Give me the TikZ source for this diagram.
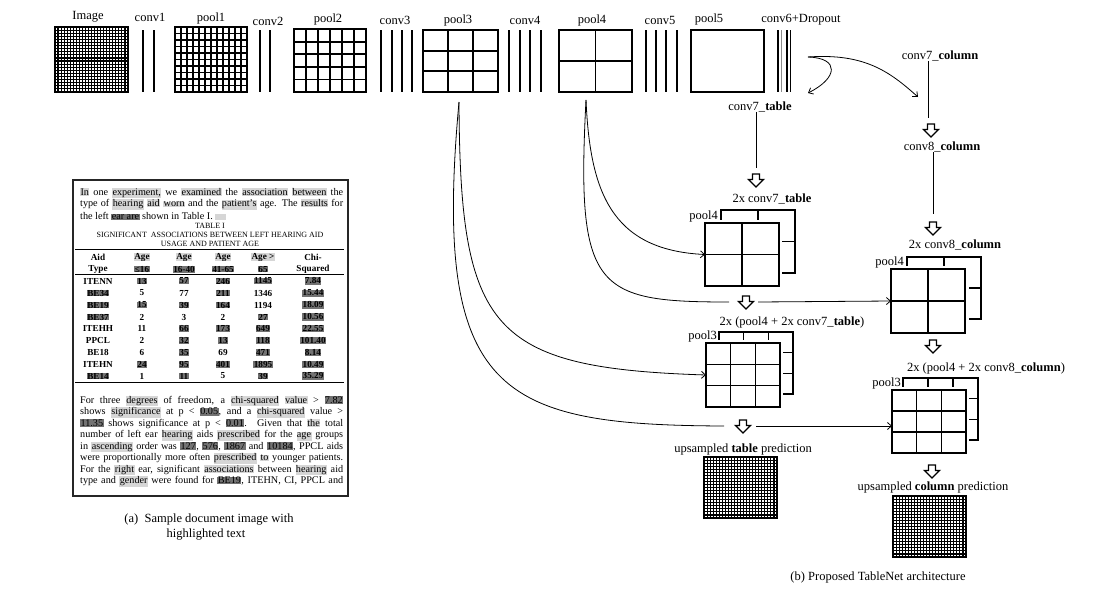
\documentclass[tikz,border=0pt]{standalone}
\usepackage{fontspec}
\setmainfont{Liberation Serif}
\usetikzlibrary{calc,arrows.meta}
\newcommand\hlL[1]{{\setlength\fboxsep{0.4pt}\colorbox{black!16}{#1}}}
\newcommand\hlD[1]{{\setlength\fboxsep{0.4pt}\colorbox{black!55}{#1}}}
\newcommand\mkgrid[8]{%
  \node[draw, line width=#8, minimum width=#4pt, minimum height=#5pt, inner sep=0pt, outer sep=0pt, anchor=north west] (#1) at (#2,#3) {};
  \ifnum#6>1
    \pgfmathtruncatemacro\mgN{#6-1}%
    \foreach \i in {1,...,\mgN}{\draw[line width=#8] ($(#1.north west)!\i/#6!(#1.north east)$) -- ($(#1.south west)!\i/#6!(#1.south east)$);}%
  \fi
  \ifnum#7>1
    \pgfmathtruncatemacro\mgM{#7-1}%
    \foreach \j in {1,...,\mgM}{\draw[line width=#8] ($(#1.north west)!\j/#7!(#1.south west)$) -- ($(#1.north east)!\j/#7!(#1.south east)$);}%
  \fi
}
\newcommand\harrow[3]{%
  \coordinate (#1) at (#2,#3);
  \draw[line width=1.3pt, line join=miter, fill=white] ($(#1)+(-3.5,0)$) -- ++(7,0) -- ++(0,5.5) -- ++(4,0) -- ++(-7.5,7.5) -- ++(-7.5,-7.5) -- ++(4,0) -- cycle;
}
\newcommand\convl[2][black]{\draw[line width=1.4pt, draw=#1] (#2,30) -- (#2,92);}
\newcommand\trow[7]{%
  \node[tb] (ra#1) at (98,#1) {#2};
  \node[tb] (rb#1) at (142,#1) {#3};
  \node[tb] (rc#1) at (184,#1) {#4};
  \node[tb] (rd#1) at (223,#1) {#5};
  \node[tb] (re#1) at (263,#1) {#6};
  \node[tb] (rf#1) at (313,#1) {#7};
}
\begin{document}
\begin{tikzpicture}[x=1pt,y=-1pt,
  lbl/.style={inner sep=0pt, font=\fontsize{12.5}{14}\selectfont},
  tb/.style={inner sep=0pt, font=\bfseries\fontsize{9.2}{10}\selectfont},
  doc/.style={inner sep=0pt, anchor=west, font=\fontsize{10.2}{11}\selectfont},
  conn/.style={line width=0.8pt, -{Straight Barb[length=4pt,width=7pt]}},
  plain/.style={line width=0.8pt}]
\fill[white] (0,0) rectangle (1097,597);
\useasboundingbox (0,0) rectangle (1097,597);

% ---------------- top row ----------------
\mkgrid{img}{55}{27}{73}{65}{24}{21}{1.1pt}
\convl{143}\convl{154}
\mkgrid{pool1}{175}{27}{72}{65}{12}{10}{1.5pt}
\convl{260}\convl{270}
\mkgrid{pool2}{294}{29}{72}{63}{6}{5}{1.8pt}
\convl{381}\convl{392}\convl{402}\convl{412}
\mkgrid{pool3}{423}{30}{75}{62}{3}{3}{1.8pt}
\convl{509}\convl{520}\convl{530}\convl{541}
\mkgrid{pool4}{559}{30}{73}{62}{2}{2}{1.8pt}
\convl{646}\convl{656}\convl{666}\convl{677}
\mkgrid{pool5}{691}{30}{73}{62}{1}{1}{1.8pt}
\convl{778}\convl[black!45]{781.5}\convl{787}\convl{790.5}

\node[lbl] (limg) at (88,17) {Image};
\node[lbl] (lc1) at (150,17) {conv1};
\node[lbl] (lp1) at (211,18) {pool1};
\node[lbl] (lc2) at (268,21) {conv2};
\node[lbl] (lp2) at (328,19) {pool2};
\node[lbl] (lc3) at (395,20) {conv3};
\node[lbl] (lp3) at (458,20) {pool3};
\node[lbl] (lc4) at (525,20) {conv4};
\node[lbl] (lp4) at (592,20) {pool4};
\node[lbl] (lc5) at (660,20) {conv5};
\node[lbl] (lp5) at (709,19) {pool5};
\node[lbl] (lc6) at (801,20) {conv6+Dropout};

% ---------------- table branch ----------------
\node[lbl] (c7t) at (760,107) {conv7\_\textbf{table}};
\harrow{ha1}{756}{174}
\draw[plain] (c7t.south -| ha1) -- ($(ha1)+(0,-6)$);
\node[lbl] (l2c7t) at (772,199) {2x conv7\_\textbf{table}};
\mkgrid{t4b}{721}{210}{74}{63}{2}{2}{1.6pt}
\fill[white] (702,220) rectangle (782,289);
\mkgrid{t4}{705}{223}{74}{63}{2}{2}{1.6pt}
\node[lbl, anchor=east] (lt4) at (718,216) {pool4};
\harrow{ha2}{746}{296}
\node[lbl] (lt3top) at (792,322) {2x (pool4 + 2x conv7\_\textbf{table})};
\mkgrid{t3b}{719}{332}{74}{62}{3}{3}{1.6pt}
\fill[white] (703,340) rectangle (783,410);
\mkgrid{t3}{706}{343}{74}{64}{3}{3}{1.6pt}
\node[lbl, anchor=east] (lt3) at (717,336) {pool3};
\harrow{ha3}{743}{420}
\node[lbl] (lupt) at (743,449) {upsampled \textbf{table} prediction};
\mkgrid{upt}{704}{457}{73}{61}{24}{20}{1.1pt}

% ---------------- column branch ----------------
\node[lbl] (c7c) at (940,56) {conv7\_\textbf{column}};
\harrow{hb1}{931}{124}
\draw[line width=0.7pt, double, double distance=2pt] (c7c.south -| 929.5,0) -- ($(hb1)+(-1.5,-6)$);
\node[lbl] (c8c) at (942,147) {conv8\_\textbf{column}};
\harrow{hb2}{933}{222}
\draw[plain] (c8c.south -| hb2) -- ($(hb2)+(0,-8)$);
\node[lbl] (l2c8c) at (955,245) {2x conv8\_\textbf{column}};
\mkgrid{c4b}{907}{257}{74}{62}{2}{2}{1.6pt}
\fill[white] (888,266) rectangle (969,336);
\mkgrid{c4}{891}{269}{74}{64}{2}{2}{1.6pt}
\node[lbl, anchor=east] (lc4b) at (904,262) {pool4};
\harrow{hb3}{933}{340}
\node[lbl] (lc3top) at (986,368) {2x (pool4 + 2x conv8\_\textbf{column})};
\mkgrid{c3b}{903}{378}{75}{62}{3}{3}{1.6pt}
\fill[white] (889,387) rectangle (969,456);
\mkgrid{c3}{892}{390}{74}{63}{3}{3}{1.6pt}
\node[lbl, anchor=east] (lc3b) at (901,383) {pool3};
\harrow{hb4}{932}{465}
\node[lbl] (lupc) at (933,487) {upsampled \textbf{column} prediction};
\mkgrid{upc}{893}{496}{73}{61}{24}{20}{1.1pt}

% ---------------- connectors ----------------
\coordinate (c6o) at (808,57);
\coordinate (c7tin) at (808,93);
\coordinate (c7cin) at (918,97);
\draw[conn] (c6o) .. controls (840,58) and (838,78) .. (c7tin);
\draw[conn] (c6o) .. controls (865,53) and (890,72) .. (c7cin);
\coordinate (p3s) at (459,102);
\coordinate (p4s) at (586,100);
\coordinate (g2l) at (729,302);
\coordinate (g2r) at (758,302);
\coordinate (g3l) at (724,426);
\coordinate (g3r) at (756,426);
\draw[conn] (p4s) .. controls (590,190) and (610,250) .. (t4.west);
\draw[plain] (p4s) .. controls (576,290) and (595,302) .. (g2l);
\draw[conn] (g2r) -- (c4.west);
\draw[conn] (p3s) .. controls (460,330) and (490,368) .. (t3.west);
\draw[plain] (p3s) .. controls (432,395) and (500,425) .. (g3l);
\draw[conn] (g3r) -- (c3.west |- g3r);

% ---------------- document image ----------------
\node[draw=black!85, line width=1.8pt, minimum width=275pt, minimum height=316pt, inner sep=0pt, anchor=north west] (doc) at (72,179) {};
\node[doc] (d1) at (80,193) {\makebox[263pt][s]{\hlL{In} one \hlL{experiment,} we \hlL{examined} the \hlL{association} \hlL{between} the}};
\node[doc] (d2) at (80,204.5) {\makebox[263pt][s]{type of \hlL{hearing} \hlL{aid} \hlL{worn} and the \hlL{patient’s} age. The \hlL{results} for}};
\node[doc] (d3) at (80,216) {the left \hlD{ear are} shown in Table I.\,\hlL{\phantom{xx}}};
\node[inner sep=0pt, font=\fontsize{8}{9}\selectfont] (dt1) at (210,225.5) {TABLE I};
\node[inner sep=0pt, font=\fontsize{8}{9}\selectfont] (dt2) at (210,235) {SIGNIFICANT\ \ ASSOCIATIONS BETWEEN LEFT HEARING AID};
\node[inner sep=0pt, font=\fontsize{8}{9}\selectfont] (dt3) at (210,244) {USAGE AND PATIENT AGE};
\coordinate (r1l) at (75,249.5); \coordinate (r1r) at (344,249.5);
\coordinate (r2l) at (75,274.5); \coordinate (r2r) at (344,274.5);
\coordinate (r3l) at (75,382.5); \coordinate (r3r) at (344,382.5);
\draw[line width=1pt] (r1l) -- (r1r);
\draw[line width=0.8pt] (r2l) -- (r2r);
\draw[line width=1pt] (r3l) -- (r3r);
\trow{257}{Aid}{\hlL{Age}}{\hlL{Age}}{\hlL{Age}}{\hlL{Age >}}{Chi-}
\trow{269}{Type}{\hlD{≤16}}{\hlD{16-40}}{\hlD{41-65}}{\hlD{65}}{Squared}
\trow{281}{ITENN}{\hlD{13}}{\hlD{57}}{\hlD{246}}{\hlD{1145}}{\hlD{7.84}}
\trow{293}{\hlD{BE34}}{5}{77}{\hlD{211}}{1346}{\hlD{15.44}}
\trow{305}{\hlD{BE19}}{\hlD{15}}{\hlD{39}}{\hlD{164}}{1194}{\hlD{18.09}}
\trow{317}{\hlD{BE37}}{2}{3}{2}{\hlD{27}}{\hlD{10.56}}
\trow{328.5}{ITEHH}{11}{\hlD{66}}{\hlD{173}}{\hlD{649}}{\hlD{22.55}}
\trow{340.5}{PPCL}{2}{\hlD{32}}{\hlD{13}}{\hlD{118}}{\hlD{101.40}}
\trow{352.5}{BE18}{6}{\hlD{35}}{69}{\hlD{471}}{\hlD{8.14}}
\trow{364.5}{ITEHN}{\hlD{24}}{\hlD{95}}{\hlD{401}}{\hlD{1895}}{\hlD{10.49}}
\trow{376}{\hlD{BE14}}{1}{\hlD{11}}{5}{\hlD{39}}{\hlD{35.29}}
\node[doc] (e1) at (80,401) {\makebox[263pt][s]{For three \hlL{degrees} of freedom, a \hlL{chi-squared} \hlL{value} > \hlD{7.82}}};
\node[doc] (e2) at (80,412.5) {\makebox[263pt][s]{shows \hlL{significance} at p < \hlD{0.05}, and a \hlL{chi-squared} value >}};
\node[doc] (e3) at (80,424) {\makebox[263pt][s]{\hlD{11.35} shows significance at p < \hlD{0.01}. Given that \hlL{the} total}};
\node[doc] (e4) at (80,435.5) {\makebox[263pt][s]{number of left ear \hlL{hearing} aids \hlL{prescribed} for the \hlL{age} groups}};
\node[doc] (e5) at (80,447) {\makebox[263pt][s]{in \hlL{ascending} order was \hlD{127}, \hlD{576}, \hlD{1867} and \hlD{10184}, PPCL aids}};
\node[doc] (e6) at (80,458.5) {\makebox[263pt][s]{were proportionally more often \hlL{prescribed} \hlL{to} younger patients.}};
\node[doc] (e7) at (80,470) {\makebox[263pt][s]{For the \hlL{right} ear, significant \hlL{associations} between \hlL{hearing} aid}};
\node[doc] (e8) at (80,481.5) {\makebox[263pt][s]{type and \hlL{gender} were found for \hlD{BE19}, ITEHN, CI, PPCL and}};

% ---------------- captions ----------------
\node[lbl] (capa1) at (209,520) {(a)\ \ Sample document image with};
\node[lbl] (capa2) at (206,535) {highlighted text};
\node[lbl] (capb) at (878,577) {(b) Proposed TableNet architecture};
\end{tikzpicture}
\end{document}
